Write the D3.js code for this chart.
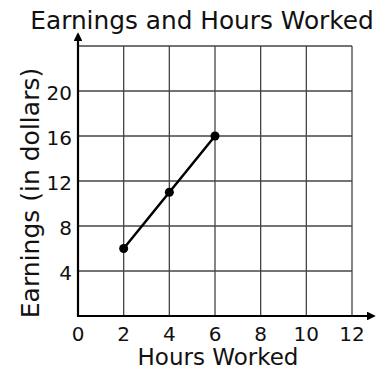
<!DOCTYPE html>
<html>
<head>
<meta charset="utf-8">
<script src="https://cdn.jsdelivr.net/npm/d3@7/dist/d3.min.js"></script>
<style>
  html, body { margin: 0; padding: 0; background: #fff; }
  svg { display: block; }
  text { font-family: "DejaVu Sans", Verdana, sans-serif; fill: #111; }
</style>
</head>
<body>
<svg id="chart" width="377" height="371"></svg>
<script>
// Hours worked vs. earnings
const hours = [2, 4, 6];
const earnings = [6, 11, 16];
const xTicks = [0, 2, 4, 6, 8, 10, 12];
const yTicks = [4, 8, 12, 16, 20];
const yGrid = [4, 8, 12, 16, 20, 24];

const svg = d3.select("#chart");
const plotLeft = 78, plotRight = 352, plotTop = 46, plotBottom = 316;

const x = d3.scaleLinear().domain([0, 12]).range([plotLeft, plotRight]);
const y = d3.scaleLinear().domain([0, 24]).range([plotBottom, plotTop]);

// grid
const grid = svg.append("g").attr("stroke", "#444").attr("stroke-width", 1.3);
grid.selectAll("line.v").data(xTicks.filter(d => d > 0)).join("line")
  .attr("class", "v")
  .attr("x1", d => x(d)).attr("x2", d => x(d))
  .attr("y1", y(0)).attr("y2", y(24));
grid.selectAll("line.h").data(yGrid).join("line")
  .attr("class", "h")
  .attr("x1", x(0)).attr("x2", x(12))
  .attr("y1", d => y(d)).attr("y2", d => y(d));

// axes with arrowheads
const defs = svg.append("defs");
defs.append("marker").attr("id", "arrow").attr("viewBox", "0 0 10 10")
  .attr("refX", 8).attr("refY", 5).attr("markerWidth", 4).attr("markerHeight", 4)
  .attr("orient", "auto")
  .append("path").attr("d", "M0,0 L10,5 L0,10 z").attr("fill", "#000");

svg.append("line").attr("x1", x(0)).attr("x2", x(0))
  .attr("y1", y(0) + 1).attr("y2", plotTop - 12)
  .attr("stroke", "#000").attr("stroke-width", 2.2).attr("marker-end", "url(#arrow)");
svg.append("line").attr("x1", x(0) - 1).attr("x2", plotRight + 22)
  .attr("y1", y(0)).attr("y2", y(0))
  .attr("stroke", "#000").attr("stroke-width", 2.2).attr("marker-end", "url(#arrow)");

// tick labels
svg.append("g").selectAll("text").data(xTicks).join("text")
  .attr("x", d => x(d)).attr("y", 341)
  .attr("text-anchor", "middle").attr("font-size", 20)
  .text(d => d);
svg.append("g").selectAll("text").data(yTicks).join("text")
  .attr("x", x(0) - 6).attr("y", d => y(d) + 9)
  .attr("text-anchor", "end").attr("font-size", 20)
  .text(d => d);

// data line and points
const pts = hours.map((h, i) => [h, earnings[i]]);
svg.append("path").datum(pts)
  .attr("d", d3.line().x(d => x(d[0])).y(d => y(d[1])))
  .attr("fill", "none").attr("stroke", "#000").attr("stroke-width", 2.5);
svg.append("g").selectAll("circle").data(pts).join("circle")
  .attr("cx", d => x(d[0])).attr("cy", d => y(d[1])).attr("r", 4.5)
  .attr("fill", "#000");

// titles
svg.append("text").attr("x", 202).attr("y", 29)
  .attr("text-anchor", "middle").attr("font-size", 24.8)
  .text("Earnings and Hours Worked");
svg.append("text").attr("x", 218).attr("y", 365)
  .attr("text-anchor", "middle").attr("font-size", 23)
  .text("Hours Worked");
svg.append("text")
  .attr("transform", "translate(39, 193) rotate(-90)")
  .attr("text-anchor", "middle").attr("font-size", 25)
  .text("Earnings (in dollars)");
</script>
</body>
</html>
